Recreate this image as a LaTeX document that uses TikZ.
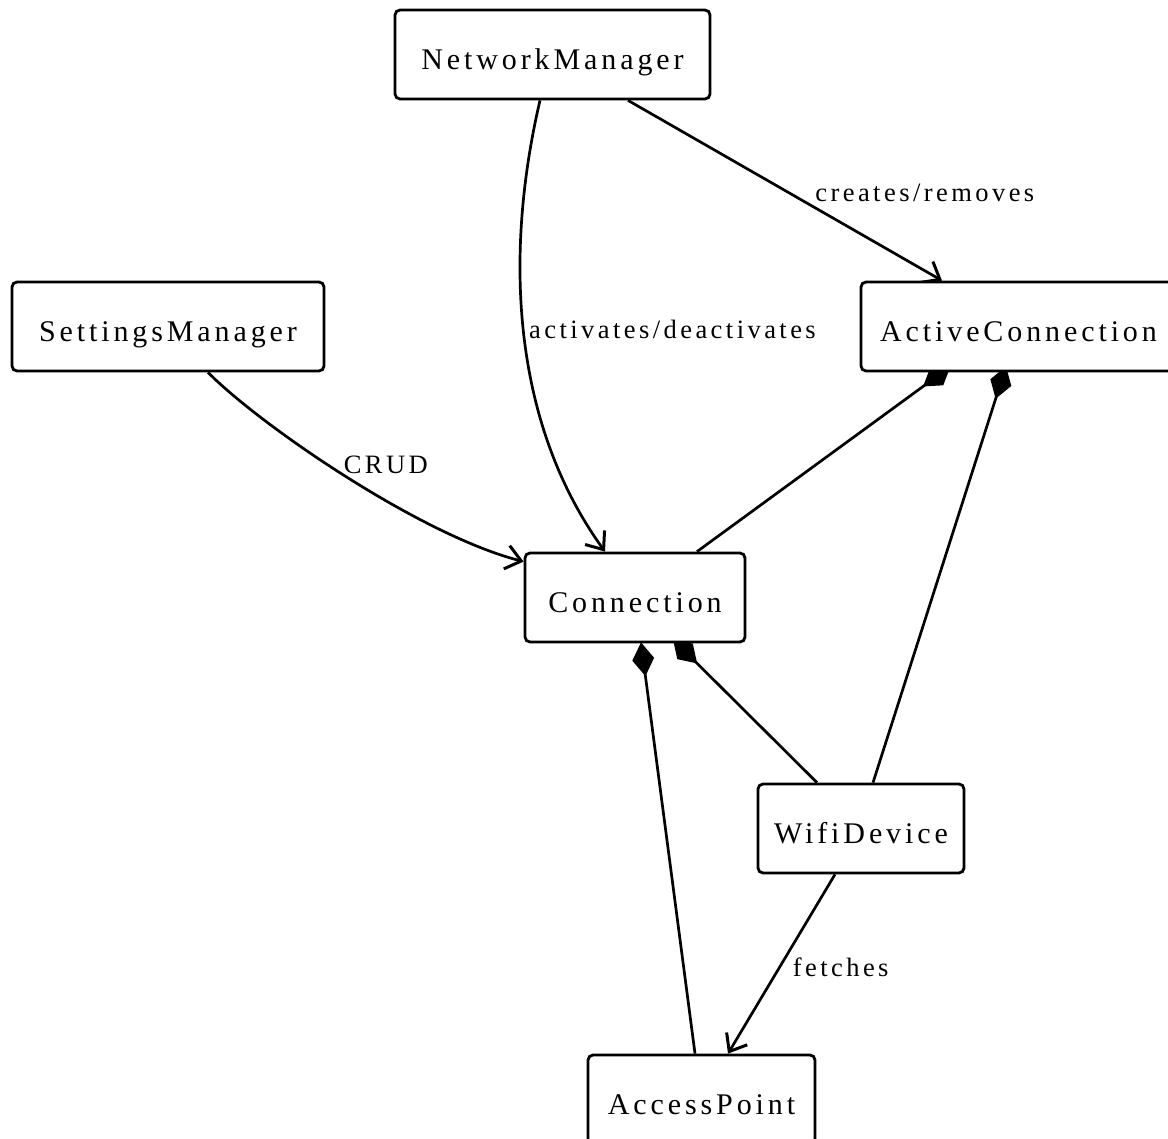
\documentclass[tikz,border=0pt]{standalone}
\usepackage{fontspec}
\setmainfont{Liberation Serif}[LetterSpace=13]
\usetikzlibrary{arrows.meta,positioning}
\pgfdeclarelayer{background}
\pgfsetlayers{background,main}

\begin{document}
\begin{tikzpicture}[x=1pt, y=-1pt,
		box/.style={draw, line width=2.8pt, rounded corners=5pt, fill=white, minimum height=89pt, inner sep=0pt, text height=30pt, text depth=0pt, font=\fontsize{30}{36}\selectfont},
		link/.style={line width=2.7pt},
		uses/.style={link, -{Straight Barb[length=15pt, width=24pt, line width=3pt]}},
		part/.style={link, {Diamond[length=34pt, width=22pt]}-},
		lbl/.style={font=\fontsize{26.5}{30}\selectfont, inner sep=0pt}]
		\useasboundingbox (0,0) rectangle (1168,1139);

		% Classes
		\node[box, minimum width=315pt] (nm) at (552.5, 54.5) {NetworkManager};
		\node[box, minimum width=312pt] (sm) at (168, 326.5) {SettingsManager};
		\node[box, minimum width=315pt] (ac) at (1018.5, 326.5) {ActiveConnection};
		\node[box, minimum width=220pt] (conn) at (635, 597.5) {Connection};
		\node[box, minimum width=206pt] (wd) at (861, 828.5) {WifiDevice};
		\node[box, minimum width=227pt] (ap) at (701.5, 1099.5) {AccessPoint};

		\begin{pgfonlayer}{background}
			% Associations
			\draw[uses] ([xshift=-12.5pt]nm.south) .. controls (505,250) and (510,420) .. ([xshift=-30pt]conn.north)
				node[lbl, pos=0.5, anchor=west, xshift=4pt, yshift=3pt] {activates/deactivates};
			\draw[uses] ([xshift=75.5pt]nm.south) -- ([xshift=-76.5pt]ac.north)
				node[lbl, midway, anchor=west, xshift=29pt, yshift=-2pt] {creates/removes};
			\draw[uses] ([xshift=40pt]sm.south) .. controls (260,425) and (420,535) .. ([yshift=-10pt]conn.north west)
				node[lbl, pos=0.5, anchor=south west, xshift=-4pt, yshift=2pt] {CRUD};
			\draw[uses] ([xshift=-26pt]wd.south) -- ([xshift=26.5pt]ap.north)
				node[lbl, midway, anchor=west, xshift=10pt, yshift=-3pt] {fetches};

			% Compositions
			\draw[part] ([xshift=-68pt, yshift=6pt]ac.south) -- ([xshift=62pt]conn.north);
			\draw[part] ([xshift=-12.5pt, yshift=6pt]ac.south) -- ([xshift=12pt]wd.north);
			\draw[part] ([xshift=38pt, yshift=4pt]conn.south) -- ([xshift=-44pt]wd.north);
			\draw[part] ([xshift=6pt, yshift=1pt]conn.south) -- ([xshift=-6.5pt]ap.north);
		\end{pgfonlayer}
	\end{tikzpicture}
\end{document}
